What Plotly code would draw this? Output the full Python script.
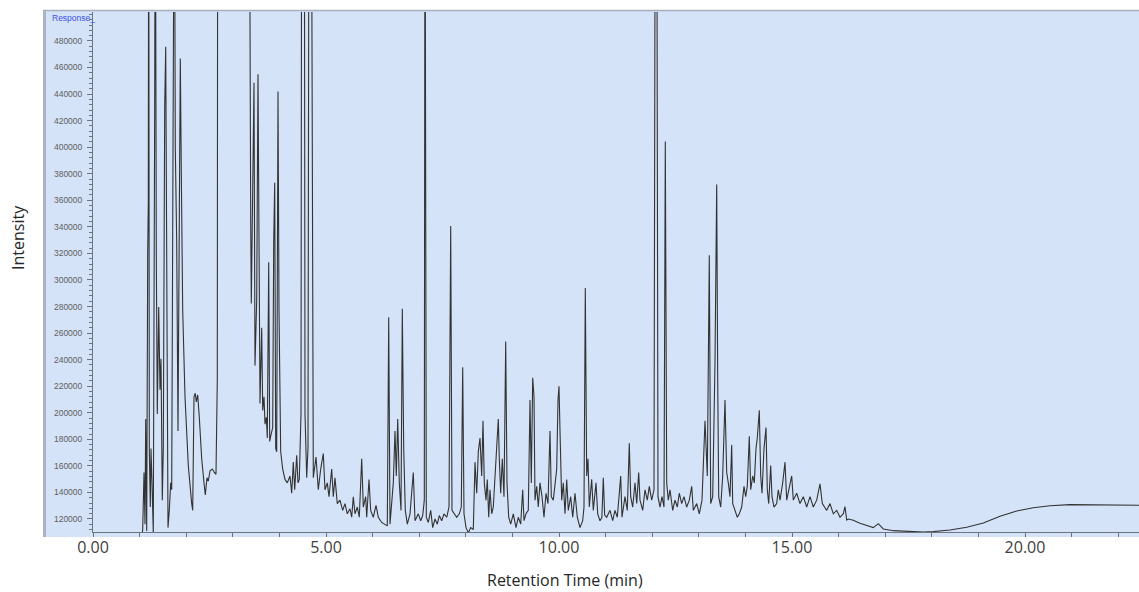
import plotly.graph_objects as go

# Retention time (min) and intensity
OFF = 650000  # off-scale (saturated) peak tops
retention_time = [
    1.030, 1.0665, 1.0944, 1.1159, 1.1309, 1.1524, 1.1738, 1.1867, 1.1953, 1.2082,
    1.2296, 1.2446, 1.2661, 1.2940, 1.3240, 1.3369, 1.3584, 1.3798, 1.4099, 1.4378,
    1.4592, 1.4871, 1.5086, 1.5386, 1.5601, 1.5815, 1.6094, 1.6373, 1.6674, 1.6888,
    1.7103, 1.7318, 1.7446, 1.7661, 1.7961, 1.8240, 1.8519, 1.8734, 1.8948, 1.9249,
    1.9742, 2.0451, 2.1180, 2.1395, 2.1674, 2.1953, 2.2167, 2.2468, 2.2811, 2.3326,
    2.3820, 2.4099, 2.4464, 2.4742, 2.5107, 2.5601, 2.6030, 2.6395, 2.6674, 2.6760,
    3.3541, 3.3691, 3.3841, 3.3970, 3.4270, 3.4549, 3.4764, 3.5129, 3.5408, 3.5622,
    3.5837, 3.6202, 3.6416, 3.6695, 3.6910, 3.7189, 3.7403, 3.7704, 3.7918, 3.8197,
    3.8562, 3.8777, 3.8991, 3.9206, 3.9421, 3.9700, 3.9914, 4.0279, 4.0708, 4.1202,
    4.1695, 4.2275, 4.2639, 4.2983, 4.3283, 4.3712, 4.3991, 4.4270, 4.4635, 4.4785,
    4.5343, 4.5494, 4.5858, 4.6137, 4.6352, 4.6845, 4.7060, 4.7275, 4.7854, 4.8348,
    4.8863, 4.9421, 4.9785, 5.0279, 5.0644, 5.1223, 5.1567, 5.1931, 5.2425, 5.3004,
    5.3584, 5.4077, 5.4571, 5.5150, 5.5515, 5.5858, 5.6223, 5.6717, 5.7146, 5.7661,
    5.8004, 5.8519, 5.8734, 5.9227, 5.9592, 6.0150, 6.0730, 6.1223, 6.1953, 6.2661,
    6.3155, 6.3455, 6.3734, 6.4442, 6.4807, 6.5086, 6.5386, 6.5730, 6.6094, 6.6373,
    6.6674, 6.7017, 6.7446, 6.8026, 6.8734, 6.9099, 6.9807, 7.0322, 7.0751, 7.1094,
    7.1245, 7.1524, 7.1953, 7.2468, 7.2897, 7.3391, 7.3884, 7.4313, 7.4828, 7.5322,
    7.5901, 7.6395, 7.6760, 7.7039, 7.7468, 7.8047, 7.8605, 7.9034, 7.9335, 7.9614,
    8.0043, 8.0536, 8.1052, 8.1609, 8.1974, 8.2339, 8.2682, 8.3047, 8.3412, 8.3691,
    8.3970, 8.4335, 8.4614, 8.4914, 8.5193, 8.5558, 8.5901, 8.6266, 8.6631, 8.6974,
    8.7189, 8.7489, 8.7833, 8.8197, 8.8562, 8.8841, 8.9206, 8.9635, 9.0193, 9.0773,
    9.1266, 9.1781, 9.2210, 9.2489, 9.2918, 9.3412, 9.3777, 9.4056, 9.4356, 9.4635,
    9.4850, 9.5215, 9.5558, 9.5923, 9.6352, 9.6781, 9.7210, 9.7639, 9.8069, 9.8348,
    9.8777, 9.9142, 9.9506, 9.9785, 10.0000, 10.0215, 10.0579, 10.0923, 10.1288, 10.1652,
    10.1996, 10.2511, 10.2940, 10.3433, 10.3927, 10.4506, 10.5086, 10.5365, 10.5644, 10.5944,
    10.6223, 10.6502, 10.7017, 10.7361, 10.7940, 10.8305, 10.8798, 10.9200, 10.9506, 10.9800,
    11.0236, 11.0944, 11.1524, 11.2017, 11.2511, 11.2940, 11.3240, 11.3519, 11.4163, 11.4657,
    11.5086, 11.5386, 11.5815, 11.6309, 11.6674, 11.7103, 11.7382, 11.7961, 11.8455, 11.8948,
    11.9378, 11.9893, 12.0386, 12.0665, 12.0966, 12.1245, 12.1674, 12.2103, 12.2532, 12.2811,
    12.3112, 12.3455, 12.3820, 12.4399, 12.4893, 12.5386, 12.5815, 12.6330, 12.6824, 12.7403,
    12.7961, 12.8476, 12.8820, 12.9549, 13.0107, 13.0687, 13.1330, 13.1824, 13.2253, 13.2554,
    13.2983, 13.3476, 13.3841, 13.4056, 13.4270, 13.4700, 13.5129, 13.5622, 13.5987, 13.6330,
    13.6695, 13.7060, 13.7275, 13.7768, 13.8262, 13.8691, 13.9206, 13.9700, 14.0064, 14.0408,
    14.0837, 14.1137, 14.1567, 14.1910, 14.2275, 14.2554, 14.2983, 14.3283, 14.3562, 14.3991,
    14.4421, 14.4700, 14.5000, 14.5429, 14.5708, 14.6137, 14.6717, 14.7060, 14.7425, 14.8004,
    14.8498, 14.8863, 14.9356, 14.9936, 15.0279, 15.1009, 15.1717, 15.2425, 15.3155, 15.3863,
    15.4571, 15.5300, 15.6009, 15.6502, 15.7446, 15.8155, 15.8863, 15.9592, 16.0300, 16.1009,
    16.1373, 16.1738, 16.2082, 16.3155, 16.4592, 16.6030, 16.7446, 16.8519, 16.9592, 17.1738,
    17.6030, 17.8176, 18.0322, 18.3906, 18.7489, 19.1052, 19.4635, 19.8219, 20.1781, 20.5365,
    20.9657, 21.6094, 22.4464,
]
intensity = [
    100000, 112100, 155000, 116000, 195300, 111000, 320000, 357600, OFF, 173000,
    129000, 173000, 147000, 109500, 434000, OFF, 318600, 199000, 279700, 217300,
    240700, 134200, 173200, 430300, 475700, 277000, 113500, 126500, 147200, 142000,
    303000, 458900, OFF, 399100, 329000, 186200, 407000, 466700, 381000, 277000,
    212100, 160200, 131600, 126500, 212100, 214700, 208200, 213400, 196600, 165400,
    147200, 138100, 151100, 148500, 156300, 157600, 155000, 153700, 225100, OFF,
    OFF, 360200, 344600, 282300, 365400, 448500, 235500, 284900, 455000, 329000,
    207000, 264100, 201800, 212100, 191400, 196600, 181000, 313400, 178400, 183600,
    188800, 329000, 373200, 173200, 170600, 442000, 277000, 170600, 157600, 149800,
    147200, 152400, 139400, 162800, 142000, 168000, 147200, 149800, 199000, OFF,
    OFF, 199000, 151100, 173200, OFF, OFF, 277000, 151100, 166700, 142000,
    157600, 169300, 142000, 147200, 136800, 157600, 136800, 151100, 131600, 134200,
    126500, 131600, 123900, 127700, 121300, 136800, 123900, 129000, 121300, 165400,
    129000, 136800, 121300, 149800, 126500, 121300, 130300, 121300, 117400, 116100,
    114800, 271900, 116100, 147200, 186200, 152400, 195300, 147200, 126500, 278400,
    173200, 126500, 116100, 123900, 155000, 118700, 123900, 118700, 122600, 134200,
    OFF, 121300, 117400, 126500, 113500, 120000, 116100, 122600, 118700, 123900,
    121300, 129000, 340700, 126500, 123900, 121300, 123900, 129000, 234200, 123900,
    113500, 109600, 113500, 112100, 162800, 139400, 170600, 181000, 152400, 194000,
    147200, 134200, 149800, 121300, 142000, 123900, 129000, 152400, 173200, 195300,
    165400, 139400, 165400, 136800, 253700, 147200, 121300, 116100, 123900, 113500,
    121300, 116100, 142000, 118700, 123900, 126500, 209600, 147200, 226400, 212100,
    134200, 144600, 129000, 147200, 136800, 121300, 139400, 131600, 186200, 136800,
    134200, 147200, 157600, 209600, 220000, 186200, 134200, 147200, 123900, 149800,
    126500, 136800, 121300, 139400, 121300, 113500, 118700, 129000, 294000, 152400,
    165400, 129000, 149800, 126500, 147200, 123900, 118700, 121000, 151000, 123000,
    121300, 126500, 118700, 126500, 121300, 139400, 152400, 121300, 136800, 126500,
    177100, 136800, 129000, 147200, 131600, 155000, 134200, 126500, 142000, 134200,
    144600, 134200, 142000, OFF, OFF, 136800, 129000, 136800, 129000, 404300,
    147200, 134200, 142000, 126500, 134200, 129000, 139400, 131600, 136800, 129000,
    134200, 144600, 126500, 131600, 123900, 134200, 194000, 152400, 318600, 131600,
    136800, 238100, 371900, 225100, 136800, 129000, 152400, 209600, 155000, 147200,
    136800, 175800, 131600, 126500, 121300, 123900, 129000, 144600, 136800, 144600,
    182300, 142000, 152400, 147200, 173200, 181000, 201800, 152400, 139400, 173200,
    188800, 142000, 131600, 160200, 136800, 129000, 131600, 142000, 134200, 147200,
    162800, 134200, 142000, 152400, 134200, 139400, 131600, 136800, 129000, 136800,
    129000, 134200, 146400, 131600, 126500, 131600, 123900, 126500, 121300, 124000,
    129300, 119200, 120000, 119000, 116800, 115000, 113500, 116500, 112500, 111200,
    110700, 110100, 110500, 111700, 113800, 117000, 122000, 126000, 128500, 130000,
    130800, 130400, 130400,
]

y_ticks = list(range(120000, 480001, 20000))
y_ticktext = [str(v) for v in y_ticks]

W, H = 1139, 592
L, R, T, B = 93, 0, 12, 60
pw, ph = W - L - R, H - T - B


def px(x):
    return (x - L) / pw


def py(y):
    return (H - B - y) / ph


fig = go.Figure()
fig.add_trace(go.Scatter(
    x=retention_time, y=intensity, mode="lines",
    line=dict(color="#333333", width=1.1), hoverinfo="skip", showlegend=False,
))

panel = "#d4e3f8"
fig.update_layout(
    width=W, height=H,
    margin=dict(l=L, r=R, t=T, b=B, pad=0),
    paper_bgcolor="white",
    plot_bgcolor="rgba(0,0,0,0)",
    template="none",
    showlegend=False,
    xaxis=dict(
        range=[0, 22.4464], showgrid=False, zeroline=False,
        showline=True, linecolor="#6b7480", linewidth=1,
        ticks="outside", ticklen=4, tickcolor="#6b7480", tickwidth=1,
        dtick=5, tick0=0, tickformat=".2f", ticklabelstandoff=-3,
        tickfont=dict(family="Open Sans", size=16, color="#404040"),
        minor=dict(ticks="outside", ticklen=4, dtick=1, tick0=0, tickcolor="#6b7480"),
    ),
    yaxis=dict(
        range=[110200, 501800], showgrid=False, zeroline=False,
        showline=True, linecolor="#6b7480", linewidth=1,
        ticks="outside", ticklen=5, tickcolor="#6b7480", tickwidth=1,
        tickmode="array", tickvals=y_ticks, ticktext=y_ticktext,
        ticklabelstandoff=3,
        tickfont=dict(family="Arial", size=8.5, color="#606060"),
        minor=dict(ticks="outside", ticklen=3, dtick=4000, tick0=0, tickcolor="#6b7480"),
    ),
    shapes=[
        dict(type="rect", xref="paper", yref="paper", layer="below",
             x0=px(43), x1=1.0, y0=py(537), y1=py(10),
             fillcolor=panel, line=dict(width=0)),
        dict(type="rect", xref="paper", yref="paper", layer="below",
             x0=px(43), x1=px(46), y0=py(537), y1=py(10),
             fillcolor="#aab4c2", line=dict(width=0)),
        dict(type="line", xref="paper", yref="paper", layer="below",
             x0=px(43), x1=1.0, y0=py(10.5), y1=py(10.5),
             line=dict(color="#a8b0bc", width=1.5)),
    ],
    annotations=[
        dict(text="Response_", xref="paper", yref="paper", x=px(50), y=py(18),
             xanchor="left", yanchor="middle", showarrow=False,
             font=dict(family="Arial", size=8.5, color="#3d4ff0")),
        dict(text="Retention Time (min)", xref="paper", yref="paper",
             x=px(565), y=py(580), xanchor="center", yanchor="middle", showarrow=False,
             font=dict(family="Open Sans", size=16, color="#262626")),
        dict(text="Intensity", xref="paper", yref="paper", textangle=-90,
             x=px(18), y=py(238), xanchor="center", yanchor="middle", showarrow=False,
             font=dict(family="Open Sans", size=16, color="#262626")),
    ],
)

fig.write_html("out.html", config={"displayModeBar": False})
